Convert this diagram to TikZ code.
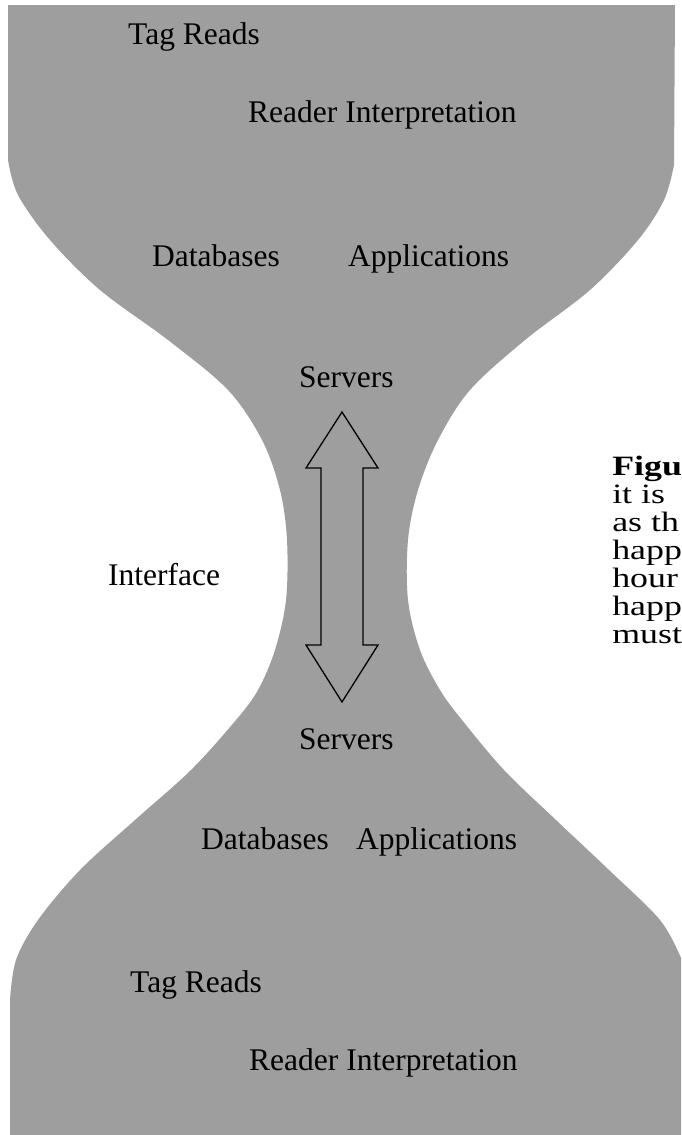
\documentclass[tikz,border=0pt]{standalone}
\usepackage{fontspec}
\setmainfont{Liberation Serif}
\definecolor{hg}{RGB}{158,158,158}
\begin{document}
\begin{tikzpicture}[x=1pt,y=-1pt,
  lbl/.style={anchor=base west, inner sep=0pt, font=\fontsize{31.5}{34}\selectfont},
  side/.style={anchor=base west, inner sep=0pt, font=\fontsize{28}{28}\selectfont, xscale=1.28},
  arrowline/.style={draw=black, line width=1.3pt, line join=miter}]
\useasboundingbox (0,0) rectangle (681,1135);
\fill[white] (0,0) rectangle (681,1135);
% hourglass body
\fill[hg] (8,5) -- (8,160)
  -- plot[smooth, tension=0.55] coordinates {(8,160) (18,195) (50,240) (100,290) (168,340) (228,390) (262,440) (280,490) (287,540) (286,600) (275,650) (258,690) (236,720) (191,770) (135,820) (80,870) (38,920) (16,960) (10,1000)}
  -- (10,1135) -- (681,1135) -- (681,958)
  -- plot[smooth, tension=0.55] coordinates {(681,958) (660,920) (609,870) (556,820) (504,770) (462,720) (440,690) (420,650) (408,600) (408,540) (418,490) (438,440) (470,390) (525,340) (590,290) (638,240) (664,200) (674,165)}
  -- (675,5) -- cycle;
% double arrow
\draw[arrowline] (342,412) -- (378,468) -- (363,468) -- (363,645) -- (378,645) -- (342,702)
  -- (306,645) -- (321,645) -- (321,468) -- (306,468) -- cycle;
% labels
\node[lbl] (tr1) at (128,44) {Tag Reads};
\node[lbl] (ri1) at (248,122) {Reader Interpretation};
\node[lbl] (db1) at (152,266) {Databases};
\node[lbl] (ap1) at (348,266) {Applications};
\node[lbl] (sv1) at (299,387) {Servers};
\node[lbl] (if) at (108,585) {Interface};
\node[lbl] (sv2) at (299,749) {Servers};
\node[lbl] (db2) at (201,849) {Databases};
\node[lbl] (ap2) at (356,849) {Applications};
\node[lbl] (tr2) at (130,992) {Tag Reads};
\node[lbl] (ri2) at (249,1070) {Reader Interpretation};
% side caption (cut off at the right edge)
\node[side] (c1) at (612,475) {\bfseries Figu};
\node[side] (c2) at (612,503) {it is};
\node[side] (c3) at (612,531) {as th};
\node[side] (c4) at (612,559) {happ};
\node[side] (c5) at (612,587) {hour};
\node[side] (c6) at (612,615) {happ};
\node[side] (c7) at (612,643) {must};
\end{tikzpicture}
\end{document}
